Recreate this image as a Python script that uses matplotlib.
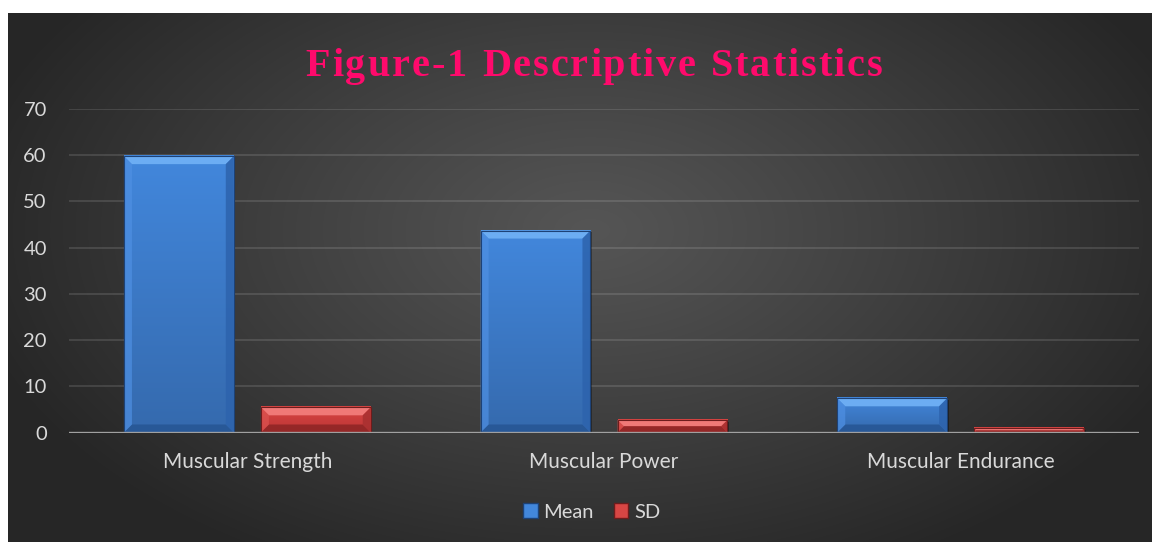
import numpy as np
import matplotlib
matplotlib.use("Agg")
import matplotlib.pyplot as plt
from matplotlib.patches import Polygon, Rectangle, Patch
from matplotlib.colors import to_rgb

# ---- data ----
categories = ["Muscular Strength", "Muscular Power", "Muscular Endurance"]
series_names = ["Mean", "SD"]
mean_values = [59.8, 43.7, 7.4]
sd_values = [5.45, 2.7, 0.9]
y_ticks = [0, 10, 20, 30, 40, 50, 60, 70]
title_text = "Figure-1 Descriptive Statistics"

W, H = 1152, 542
DPI = 100
fig = plt.figure(figsize=(W / DPI, H / DPI), dpi=DPI)
fig.patch.set_facecolor("white")

FONT = "Lato"
TXT = "#d9d9d9"

# ---- dark panel with radial gradient ----
px0, py0 = 8, 13            # panel top-left in pixels
bg = fig.add_axes([px0 / W, 0, 1 - px0 / W, 1 - py0 / H])
bg.set_axis_off()
gw, gh = W - px0, H - py0
yy, xx = np.mgrid[0:gh, 0:gw]
cx, cy = 590 - px0, 230 - py0
r = np.sqrt(((xx - cx) / 640.0) ** 2 + ((yy - cy) / 380.0) ** 2)
r = np.clip(r, 0, 1)
lo, hi = 0x26 / 255, 0x55 / 255
val = hi + (lo - hi) * r ** 1.1
img = np.dstack([val, val, val])
bg.imshow(img, aspect="auto", extent=[0, gw, gh, 0], interpolation="bilinear")
bg.set_xlim(0, gw)
bg.set_ylim(gh, 0)

# ---- main plotting axes ----
ax_l, ax_r = 69, 1139
ax_t, ax_b = 109, 432.5
ax = fig.add_axes([ax_l / W, (H - ax_b) / H, (ax_r - ax_l) / W, (ax_b - ax_t) / H])
ax.patch.set_alpha(0)
ax.set_xlim(-0.5, len(categories) - 0.5)
ax.set_ylim(0, 70)
for s in ax.spines.values():
    s.set_visible(False)

ax.set_yticks(y_ticks)
ax.yaxis.grid(True, color="#ffffff", alpha=0.13, linewidth=1.3)
ax.set_axisbelow(True)
ax.tick_params(axis="y", length=0, pad=16, labelsize=14.5, labelcolor=TXT)
ax.tick_params(axis="x", length=0, pad=14, labelsize=15, labelcolor=TXT)
ax.set_xticks(range(len(categories)))
ax.set_xticklabels(categories)
for lab in ax.get_xticklabels() + ax.get_yticklabels():
    lab.set_fontfamily(FONT)

x = np.arange(len(categories))
bw = 0.308
off = 0.192

palettes = {
    "Mean": dict(top="#6fb0f5", left="#4f90e3", right="#2d63ad", bottom="#275695",
                 face_top="#4287dc", face_bot="#356aae", edge="#1d4277"),
    "SD": dict(top="#f27d7b", left="#dc5350", right="#a83030", bottom="#902626",
               face_top="#d84644", face_bot="#bd3535", edge="#6e1c1c"),
}

bars_mean = ax.bar(x - off, mean_values, bw, color="none", zorder=2)
bars_sd = ax.bar(x + off, sd_values, bw, color="none", zorder=2)

# pixel → data scale for bevel sizes
p0 = ax.transData.transform((0, 0))
p1 = ax.transData.transform((1, 1))
ux = 1.0 / (p1[0] - p0[0])
uy = 1.0 / (p1[1] - p0[1])
bev = 8.0


def bevel_bar(rect, pal):
    x0 = rect.get_x()
    w = rect.get_width()
    h = rect.get_height()
    x1 = x0 + w
    y0, y1 = 0.0, h
    dx = bev * ux
    dy = min(bev * uy, h / 2.0)
    dxs = min(dx, dy * ux / uy) if dy < bev * uy else dx
    # soft shadow
    ax.add_patch(Rectangle((x0 + 1.5 * ux, y0 - 1.5 * uy), w, h, facecolor="black",
                           alpha=0.35, edgecolor="none", zorder=2))
    # inner face gradient
    grad = np.linspace(0, 1, 64)[:, None]
    c_t = np.array(to_rgb(pal["face_top"]))
    c_b = np.array(to_rgb(pal["face_bot"]))
    g = c_t[None, None, :] * (1 - grad[..., None]) + c_b[None, None, :] * grad[..., None]
    ax.imshow(g, extent=[x0, x1, y0, y1], aspect="auto", zorder=3,
              interpolation="bilinear", origin="upper")
    # bevel facets
    ix0, ix1 = x0 + dxs, x1 - dxs
    iy0, iy1 = y0 + dy, y1 - dy
    polys = [
        ([(x0, y1), (x1, y1), (ix1, iy1), (ix0, iy1)], pal["top"], 0.95),
        ([(x0, y0), (x1, y0), (ix1, iy0), (ix0, iy0)], pal["bottom"], 0.9),
        ([(x0, y0), (x0, y1), (ix0, iy1), (ix0, iy0)], pal["left"], 0.7),
        ([(x1, y0), (x1, y1), (ix1, iy1), (ix1, iy0)], pal["right"], 0.85),
    ]
    for pts, col, a in polys:
        ax.add_patch(Polygon(pts, closed=True, facecolor=col, edgecolor="none",
                             alpha=a, zorder=4))
    ax.add_patch(Rectangle((x0, y0), w, h, facecolor="none", edgecolor=pal["edge"],
                           linewidth=0.8, zorder=5))


for rect in bars_mean:
    bevel_bar(rect, palettes["Mean"])
for rect in bars_sd:
    bevel_bar(rect, palettes["SD"])

# category axis line
ax.axhline(0, color="#a6a6a6", linewidth=2.4, zorder=6, alpha=0.95)
ax.set_xlim(-0.5, len(categories) - 0.5)
ax.set_ylim(0, 70)

# ---- legend ----
handles = [Patch(facecolor=palettes["Mean"]["face_top"], edgecolor=palettes["Mean"]["edge"]),
           Patch(facecolor=palettes["SD"]["face_top"], edgecolor=palettes["SD"]["edge"])]
leg = fig.legend(handles, series_names, loc="center", bbox_to_anchor=(592 / W, 1 - 512 / H),
                 ncol=2, frameon=False, handlelength=0.7, handleheight=0.7,
                 handletextpad=0.3, columnspacing=1.0,
                 prop={"family": FONT, "size": 14.5})
for t in leg.get_texts():
    t.set_color(TXT)

# ---- title with letter spacing ----
fig.canvas.draw()
renderer = fig.canvas.get_renderer()
tprops = dict(fontfamily="Liberation Serif", fontweight="bold", fontsize=29,
              color="#ff0a6c")
spacing = 1.9  # extra pixels between letters
widths = []
for ch in title_text:
    t = fig.text(0, 0, ch if ch != " " else "n", **tprops)
    bb = t.get_window_extent(renderer)
    w_ch = bb.width if ch != " " else bb.width * 0.5
    widths.append(w_ch)
    t.remove()
total = sum(widths) + spacing * (len(title_text) - 1)
cx_title = 594
xpos = cx_title - total / 2
ty = H - 62
for ch, w_ch in zip(title_text, widths):
    if ch != " ":
        fig.text(xpos / W, ty / H, ch, ha="left", va="center_baseline", **tprops)
    xpos += w_ch + spacing

fig.savefig("out.png", dpi=DPI, facecolor=fig.get_facecolor())
